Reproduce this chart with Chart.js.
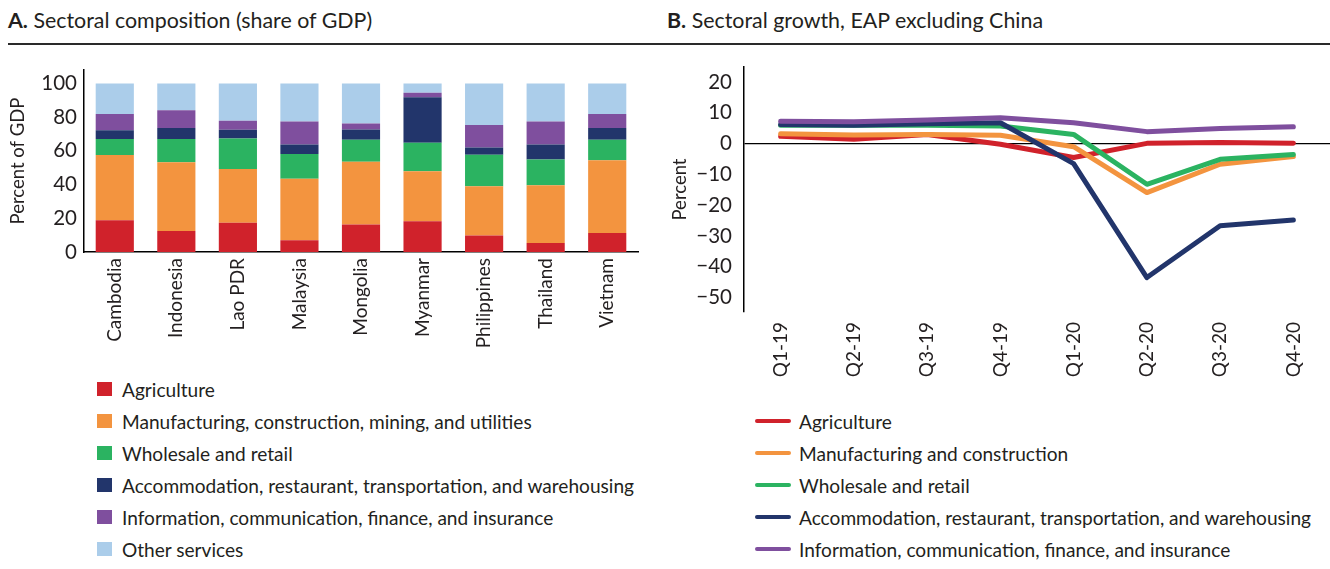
<!DOCTYPE html>
<html lang="en">
<head>
<meta charset="UTF-8" />
<title>Sectoral composition and growth</title>
<script src="https://cdn.jsdelivr.net/npm/chart.js"></script>
<style>
  body { margin:0; background:#fff; font-family: Lato, sans-serif; color:#231f20; }
  .page { position:relative; width:1330px; height:569px; overflow:hidden; }
  .title { position:absolute; top:7px; font-size:21.4px; white-space:nowrap; }
  .rule { position:absolute; top:43px; left:8px; width:1322px; border-top:2px solid #2a2a2a; }
  .box { position:absolute; }
  .legend { position:absolute; font-size:19.1px; white-space:nowrap; }
  .legend div { height:32px; display:flex; align-items:center; }
  .sw { width:15px; height:14px; margin-right:10px; }
  .ln { width:36px; height:4.5px; margin-right:8px; border-radius:2px; }
</style>
</head>
<body>
<div class="page">
  <div class="title" style="left:8px"><b>A.</b> Sectoral composition (share of GDP)</div>
  <div class="title" style="left:667px"><b>B.</b> Sectoral growth, EAP excluding China</div>
  <div class="rule"></div>

  <div class="box" style="left:0; top:60px; width:640px; height:310px"><canvas id="chartA"></canvas></div>
  <div class="box" style="left:660px; top:60px; width:670px; height:320px"><canvas id="chartB"></canvas></div>

  <div class="legend" id="legendA" style="left:97px; top:373px"></div>
  <div class="legend" id="legendB" style="left:755px; top:405px"></div>
</div>

<script>
  // panel A: share of GDP by country
  const countries = ['Cambodia', 'Indonesia', 'Lao PDR', 'Malaysia', 'Mongolia', 'Myanmar', 'Philippines', 'Thailand', 'Vietnam'];
  const agriculture   = [18.9, 12.5, 17.3, 7.0, 16.3, 18.3, 9.8, 5.4, 11.3];
  const manufacturing = [38.6, 40.8, 32.0, 36.4, 37.2, 29.6, 29.2, 34.2, 43.2];
  const wholesale     = [9.5, 13.7, 18.1, 14.7, 13.1, 16.9, 18.7, 15.3, 12.1];
  const accommodation = [5.2, 6.6, 5.2, 5.7, 6.1, 27.0, 4.3, 8.9, 7.0];
  const information   = [9.7, 10.5, 5.3, 13.7, 3.6, 2.7, 13.4, 13.7, 8.3];
  const otherServices = [18.1, 15.9, 22.1, 22.5, 23.7, 5.5, 24.6, 22.5, 18.1];
  const yTicksA = [0, 20, 40, 60, 80, 100];

  // panel B: sectoral growth, EAP excluding China
  const quarters = ['Q1-19', 'Q2-19', 'Q3-19', 'Q4-19', 'Q1-20', 'Q2-20', 'Q3-20', 'Q4-20'];
  const growthAgri   = [2.4, 1.4, 3.0, -0.2, -4.5, 0.1, 0.4, 0.1];
  const growthManuf  = [3.2, 2.8, 3.0, 2.7, -1.0, -15.9, -6.7, -4.2];
  const growthTrade  = [6.0, 6.0, 6.0, 5.7, 3.0, -13.2, -5.1, -3.5];
  const growthAccom  = [6.2, 6.0, 6.5, 6.8, -6.5, -43.5, -26.7, -24.8];
  const growthInfo   = [7.3, 7.1, 7.7, 8.4, 6.8, 3.9, 4.9, 5.5];
  const yTicksB = [20, 10, 0, -10, -20, -30, -40, -50];

  const red = '#d0222b', orange = '#f3943f', green = '#2bb361', navy = '#22356b', purple = '#7f4f9e', sky = '#abcdea';
  const ink = '#231f20';

  Chart.defaults.font.family = 'Lato, sans-serif';
  Chart.defaults.color = ink;

  // drop the label overflow padding so the plot area sits where the layout says
  const noPad = s => { s.paddingTop = 0; s.paddingBottom = 0; };

  const barSets = [
    { label: 'Agriculture', data: agriculture, backgroundColor: red },
    { label: 'Manufacturing, construction, mining, and utilities', data: manufacturing, backgroundColor: orange },
    { label: 'Wholesale and retail', data: wholesale, backgroundColor: green },
    { label: 'Accommodation, restaurant, transportation, and warehousing', data: accommodation, backgroundColor: navy },
    { label: 'Information, communication, finance, and insurance', data: information, backgroundColor: purple },
    { label: 'Other services', data: otherServices, backgroundColor: sky }
  ];

  new Chart(document.getElementById('chartA'), {
    type: 'bar',
    data: { labels: countries, datasets: barSets },
    options: {
      responsive: true,
      maintainAspectRatio: false,
      animation: false,
      layout: { padding: { top: 10, right: 2, left: 0, bottom: 0 } },
      datasets: { bar: { barPercentage: 0.62, categoryPercentage: 1 } },
      plugins: { legend: { display: false }, tooltip: { enabled: false } },
      scales: {
        x: {
          stacked: true,
          grid: { display: false, drawTicks: false },
          border: { color: '#000', width: 1.5 },
          ticks: { minRotation: 90, maxRotation: 90, autoSkip: false, padding: 6, font: { size: 19 } },
          afterFit: s => { s.height = 118; }
        },
        y: {
          stacked: true,
          min: 0,
          max: 108,
          grid: { display: false, drawTicks: false },
          border: { color: '#000', width: 1.5 },
          afterBuildTicks: s => { s.ticks = yTicksA.map(v => ({ value: v })); },
          ticks: { padding: 7, font: { size: 20.5 } },
          title: { display: true, text: 'Percent of GDP', font: { size: 18.5 }, padding: { top: 7, bottom: 0 } },
          afterFit: s => { s.width = 84; noPad(s); }
        }
      }
    }
  });

  const lineSets = [
    { label: 'Agriculture', data: growthAgri, borderColor: red, order: 5 },
    { label: 'Manufacturing and construction', data: growthManuf, borderColor: orange, order: 4 },
    { label: 'Wholesale and retail', data: growthTrade, borderColor: green, order: 3 },
    { label: 'Accommodation, restaurant, transportation, and warehousing', data: growthAccom, borderColor: navy, order: 2 },
    { label: 'Information, communication, finance, and insurance', data: growthInfo, borderColor: purple, order: 1 }
  ];
  lineSets.forEach(d => {
    d.borderWidth = 5;
    d.pointRadius = 0;
    d.tension = 0;
    d.borderCapStyle = 'round';
    d.borderJoinStyle = 'round';
  });

  new Chart(document.getElementById('chartB'), {
    type: 'line',
    data: { labels: quarters, datasets: lineSets },
    options: {
      responsive: true,
      maintainAspectRatio: false,
      animation: false,
      layout: { padding: { top: 7, right: 0, left: 0, bottom: 0 } },
      plugins: { legend: { display: false }, tooltip: { enabled: false } },
      scales: {
        x: {
          offset: true,
          grid: { display: false, drawTicks: false },
          border: { display: false },
          ticks: { minRotation: 90, maxRotation: 90, autoSkip: false, padding: 10, font: { size: 19 } },
          afterFit: s => { s.height = 68; }
        },
        y: {
          min: -54.7,
          max: 24.9,
          grid: {
            drawTicks: false,
            color: c => (c.tick && c.tick.value === 0 ? '#000' : 'rgba(0,0,0,0)'),
            lineWidth: 1.2
          },
          border: { color: '#000', width: 1.5 },
          afterBuildTicks: s => { s.ticks = yTicksB.map(v => ({ value: v })); },
          ticks: {
            padding: 12,
            font: { size: 20.5 },
            callback: v => (v < 0 ? '\u2212' + Math.abs(v) : String(v))
          },
          title: { display: true, text: 'Percent', font: { size: 18.5 }, padding: { top: 9, bottom: 0 } },
          afterFit: s => { s.width = 84; noPad(s); }
        }
      }
    }
  });

  // legends, one item per row
  const legA = document.getElementById('legendA');
  barSets.forEach(d => {
    const row = document.createElement('div');
    row.innerHTML = '<span class="sw" style="background:' + d.backgroundColor + '"></span>' + d.label;
    legA.appendChild(row);
  });
  const legB = document.getElementById('legendB');
  lineSets.forEach(d => {
    const row = document.createElement('div');
    row.innerHTML = '<span class="ln" style="background:' + d.borderColor + '"></span>' + d.label;
    legB.appendChild(row);
  });
</script>
</body>
</html>
